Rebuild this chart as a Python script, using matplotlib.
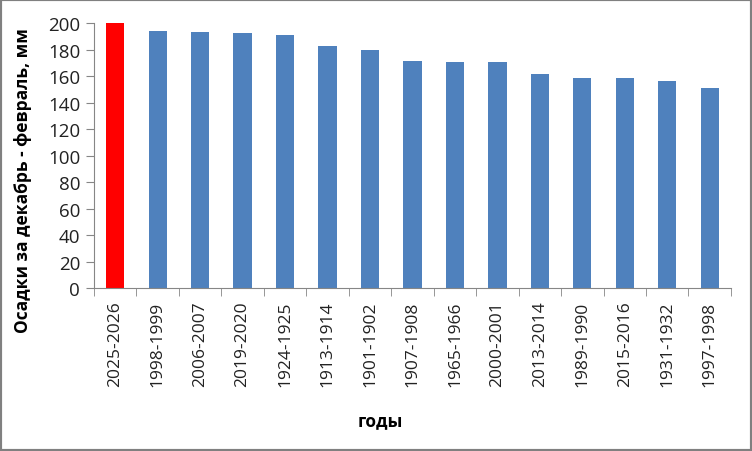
import matplotlib
matplotlib.use("Agg")
import matplotlib.pyplot as plt
from matplotlib.patches import Rectangle

categories = ["2025-2026", "1998-1999", "2006-2007", "2019-2020", "1924-1925",
              "1913-1914", "1901-1902", "1907-1908", "1965-1966", "2000-2001",
              "2013-2014", "1989-1990", "2015-2016", "1931-1932", "1997-1998"]
values = [200, 194, 193, 192.5, 191, 182.5, 179.5, 171.5, 170.5, 170.5,
          161.5, 158.5, 158.5, 156.5, 151]
colors = ["#FF0000"] + ["#4F81BD"] * (len(values) - 1)
yticks = list(range(0, 201, 20))

fig = plt.figure(figsize=(7.52, 4.52), dpi=100)
fig.patches.append(Rectangle((0, 0), 1, 1, transform=fig.transFigure,
                             fill=False, edgecolor="#808080", linewidth=3))
ax = fig.add_axes([0.125, 0.3606, 0.847, 0.5863])
x = list(range(len(categories)))
ax.bar(x, values, width=0.43, color=colors)
ax.set_xlim(-0.5, len(categories) - 0.5)
ax.set_ylim(0, 200)
ax.set_yticks(yticks)
ax.set_yticklabels([str(v) for v in yticks], fontsize=13.5, family="Open Sans", color="#222222")
ax.set_xticks(x)
ax.set_xticklabels(categories, rotation=90, fontsize=12.5, family="Open Sans", color="#222222")
ax.tick_params(axis="x", length=0, pad=9)
ax.set_xticks([i - 0.5 for i in range(len(categories) + 1)], minor=True)
ax.tick_params(axis="x", which="minor", length=6, color="#868686", direction="out")
ax.tick_params(axis="y", length=6, color="#868686", direction="out", pad=4)
for s in ["top", "right"]:
    ax.spines[s].set_visible(False)
for s in ["left", "bottom"]:
    ax.spines[s].set_color("#868686")
ax.set_ylabel("Осадки за декабрь - февраль, мм", fontsize=12.5, fontweight="bold",
              family="Open Sans")
ax.yaxis.set_label_coords(-0.097, 0.41)
ax.set_xlabel("годы", fontsize=12.5, fontweight="bold", family="Open Sans")
ax.xaxis.set_label_coords(0.449, -0.466)
fig.savefig("out.png", dpi=100)
